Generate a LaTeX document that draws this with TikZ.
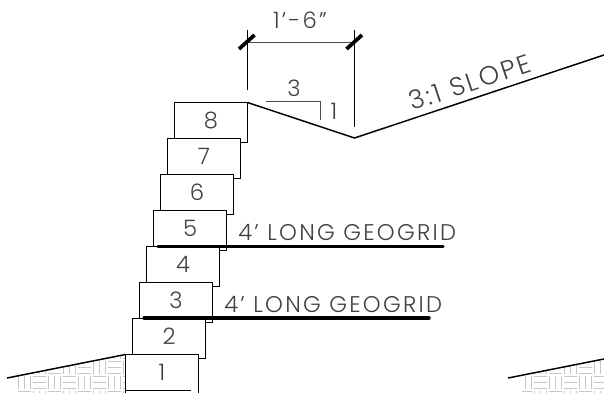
\documentclass[tikz,border=0pt]{standalone}
\usepackage{fontspec}
\setmainfont{Poppins}[UprightFont={* Light},LetterSpace=10]
\usetikzlibrary{positioning}
\newcommand{\weavepatch}[2]{%
    \foreach \c in {0,...,8} \foreach \r in {0,...,3} {
      \pgfmathsetmacro{\px}{#1+\c*15}
      \pgfmathsetmacro{\py}{#2+\r*15}
      \pgfmathtruncatemacro{\odd}{mod(\c+\r,2)}
      \ifnum\odd=0
       \foreach \d in {0,1,2} \draw[weave] (\px+1,\py+1.5+\d*6) -- (\px+14,\py+1.5+\d*6);
      \else
       \foreach \d in {0,1,2} \draw[weave] (\px+1.5+\d*6,\py+1) -- (\px+1.5+\d*6,\py+14);
      \fi
    }}
\tikzset{
  stone/.style={draw,fill=white,line width=1pt,outer sep=0pt,minimum width=54.75pt,minimum height=30pt,inner sep=0pt,text depth=3pt,font=\fontsize{17}{17}\selectfont,text=black!75},
  earth/.style={line width=1.1pt},
  grid/.style={line width=2.6pt,line cap=round},
  thin/.style={line width=0.8pt},
  tick/.style={line width=2.8pt},
  weave/.style={black!22,line width=0.75pt},
  note/.style={font=\fontsize{17}{17}\selectfont,text=black!75,inner sep=0pt}
}
\begin{document}
\begin{tikzpicture}[x=0.75pt,y=-0.75pt,node distance=27pt and 5.25pt,on grid]
   \useasboundingbox (0,0) rectangle (604,393);
   % hatching under the ground
   \begin{scope}
    \clip (18,375.8) -- (125,354) -- (125,393) -- (18,393) -- cycle;
    \weavepatch{1.7}{345}
   \end{scope}
   \begin{scope}
    \clip (522,375.2) -- (604,359) -- (604,393) -- (522,393) -- cycle;
    \weavepatch{503}{345}
   \end{scope}
   % wall
   \node[stone] (s8) at (211,122.5) {8};
   \node[stone] (s7) [below left=of s8] {7};
   \node[stone] (s6) [below left=of s7] {6};
   \node[stone] (s5) [below left=of s6] {5};
   \node[stone] (s4) [below left=of s5] {4};
   \node[stone] (s3) [below left=of s4] {3};
   \node[stone] (s2) [below left=of s3] {2};
   \node[stone] (s1) [below left=of s2] {1};
   \coordinate (foot) at (191,390.5);
   \draw[line width=1pt] (s1.west |- foot) -- (foot);
   % ground and slope
   \coordinate (toeL) at (7,378);
   \coordinate (toeR) at (508,378);
   \coordinate (edgeR) at (604,359);
   \coordinate (dip) at (354.5,138);
   \coordinate (top) at (604,55);
   \draw[earth] (toeL) -- (s1.north west);
   \draw[earth] (toeR) -- (edgeR);
   \draw[earth] (s8.north east) -- (dip) -- (top);
   % geogrid
   \coordinate (g1a) at (158,246.5);
   \coordinate (g1b) at (443,246.5);
   \coordinate (g2a) at (144,318);
   \coordinate (g2b) at (429,318);
   \draw[grid] (g1a) -- (g1b);
   \draw[grid] (g2a) -- (g2b);
   \node[note,anchor=base west] (n1) at (238,240) {4' LONG GEOGRID};
   \node[note,anchor=base west] (n2) at (224,312) {4' LONG GEOGRID};
   % dimension
   \coordinate (d1) at (247.5,42.5);
   \coordinate (d2) at (354.5,42.5);
   \draw[thin] (247.5,30) -- (247.5,90);
   \draw[thin] (354.5,30) -- (354.5,127);
   \draw[thin,black!70] (d1) -- (d2);
   \draw[tick] (239,49) -- (254.5,35);
   \draw[tick] (346.5,49) -- (362,35);
   \node[note] (dim) at (300,20) {1'-6"};
   % slope mark
   \coordinate (m1) at (266,101.5);
   \coordinate (m2) at (320.5,101.5);
   \coordinate (m3) at (320.5,120);
   \draw[thin,black!70] (m1) -- (m2) -- (m3);
   \node[note] (run) at (294,88) {3};
   \node[note] (rise) at (334,111) {1};
   \node[note,font=\fontsize{19.5}{20}\selectfont,rotate=18.4] (slope) at (470,82) {3:1 SLOPE};
\end{tikzpicture}
\end{document}
